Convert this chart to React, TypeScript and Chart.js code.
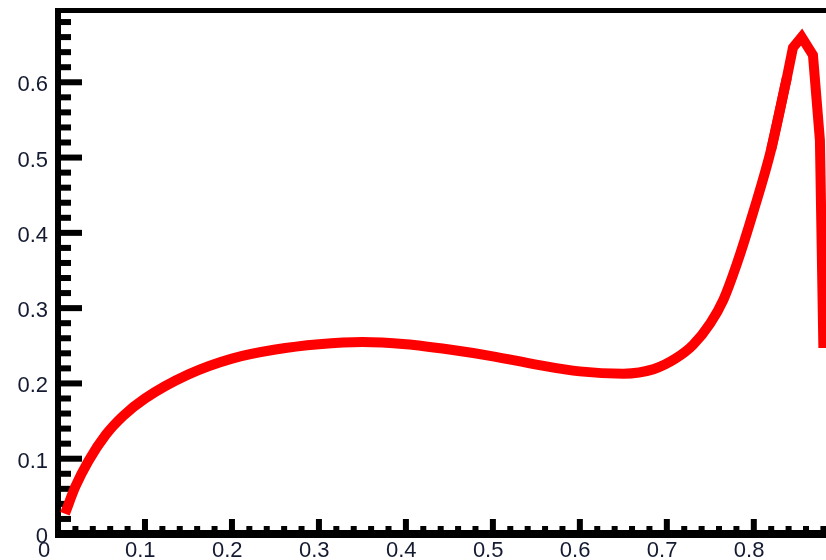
import React, { useEffect, useRef } from "react";
import { Chart, registerables } from "chart.js";

Chart.register(...registerables);

// Curve samples (x, y): smooth run, then the sharp peak and drop
const xValues = [
  0.008, 0.02, 0.035, 0.055, 0.075, 0.1, 0.15, 0.2, 0.25, 0.3, 0.35, 0.4, 0.45,
  0.5, 0.55, 0.6, 0.65, 0.685, 0.71, 0.73, 0.75, 0.765, 0.78, 0.8, 0.82, 0.838,
];
const yValues = [
  0.027, 0.063, 0.097, 0.132, 0.157, 0.18, 0.212, 0.233, 0.245, 0.252, 0.255,
  0.252, 0.245, 0.236, 0.225, 0.216, 0.213, 0.219, 0.233, 0.251, 0.28, 0.311,
  0.357, 0.43, 0.511, 0.606,
];
const peakX = [0.82, 0.838, 0.845, 0.855, 0.868, 0.876, 0.88];
const peakY = [0.511, 0.606, 0.646, 0.66, 0.636, 0.523, 0.247];

const xTickValues = [0, 0.1, 0.2, 0.3, 0.4, 0.5, 0.6, 0.7, 0.8];
const xTickLabels = ["0", "0.1", "0.2", "0.3", "0.4", "0.5", "0.6", "0.7", "0.8"];
const yTickValues = [0, 0.1, 0.2, 0.3, 0.4, 0.5, 0.6];
const yTickLabels = ["0", "0.1", "0.2", "0.3", "0.4", "0.5", "0.6"];

const X_MIN = 0;
const X_MAX = 0.883;
const Y_MIN = 0;
const Y_MAX = 0.696;
const MINOR_STEP = 0.02;

// Framed axes with inward ticks, drawn under the curve
const frameAxes = {
  id: "frameAxes",
  beforeDatasetsDraw(chart: any) {
    const { ctx, chartArea, scales } = chart;
    const xs = scales.x;
    const ys = scales.y;
    const left = chartArea.left;
    const bottom = chartArea.bottom;
    const top = chartArea.top;
    const right = chart.width;
    ctx.save();
    ctx.fillStyle = "#000000";
    // axis lines and top border
    ctx.fillRect(left - 3, top - 2, 6, bottom - top + 6);
    ctx.fillRect(left - 3, bottom - 4, right - left + 3, 8);
    ctx.fillRect(left - 3, top - 2, right - left + 3, 5);

    // left ticks
    const nY = Math.floor((Y_MAX - Y_MIN) / MINOR_STEP + 1e-6);
    for (let i = 1; i <= nY; i++) {
      const v = Y_MIN + i * MINOR_STEP;
      const y = ys.getPixelForValue(v);
      const major = i % 5 === 0;
      ctx.fillRect(left + 3, y - 3, major ? 21 : 10, 6);
    }
    // bottom ticks
    const nX = Math.floor((X_MAX - X_MIN) / MINOR_STEP + 1e-6);
    for (let i = 1; i <= nX; i++) {
      const v = X_MIN + i * MINOR_STEP;
      const x = xs.getPixelForValue(v);
      const major = i % 5 === 0;
      const h = major ? 11 : 4;
      ctx.fillRect(x - 3, bottom - 4 - h, 6, h);
    }

    // tick labels
    ctx.fillStyle = "#141a30";
    ctx.font = '22px "Liberation Sans", Arial, sans-serif';
    ctx.textBaseline = "alphabetic";
    ctx.textAlign = "right";
    yTickValues.forEach((v, i) => {
      const y = ys.getPixelForValue(v);
      ctx.fillText(yTickLabels[i], left - 10, y + 9);
    });
    ctx.textAlign = "left";
    xTickValues.forEach((v, i) => {
      const x = xs.getPixelForValue(v);
      ctx.fillText(xTickLabels[i], x - 20, bottom + 23);
    });
    ctx.restore();
  },
};

const curveStyle = {
  showLine: true,
  borderColor: "#ff0000",
  backgroundColor: "#ff0000",
  borderWidth: 10,
  pointRadius: 0,
  borderJoinStyle: "miter" as const,
  borderCapStyle: "butt" as const,
  clip: false as any,
};

export default function App() {
  const canvasRef = useRef<HTMLCanvasElement | null>(null);

  useEffect(() => {
    const canvas = canvasRef.current;
    if (!canvas) return;
    const smooth = xValues.map((x, i) => ({ x, y: yValues[i] }));
    const peak = peakX.map((x, i) => ({ x, y: peakY[i] }));
    const chart = new Chart(canvas, {
      type: "scatter",
      data: {
        datasets: [
          { ...curveStyle, data: smooth, cubicInterpolationMode: "monotone" },
          { ...curveStyle, data: peak, tension: 0 },
        ],
      },
      options: {
        animation: false,
        responsive: false,
        devicePixelRatio: 1,
        layout: { padding: { left: 58, top: 10, right: 0, bottom: 26 } },
        plugins: {
          legend: { display: false },
          tooltip: { enabled: false },
        },
        scales: {
          x: { type: "linear", min: X_MIN, max: X_MAX, display: false },
          y: { type: "linear", min: Y_MIN, max: Y_MAX, display: false },
        },
      },
      plugins: [frameAxes],
    });
    return () => chart.destroy();
  }, []);

  return (
    <div
      style={{
        position: "absolute",
        left: 0,
        top: 0,
        width: 826,
        height: 560,
        background: "#ffffff",
        overflow: "hidden",
      }}
    >
      <canvas ref={canvasRef} width={826} height={560} style={{ display: "block" }} />
    </div>
  );
}
